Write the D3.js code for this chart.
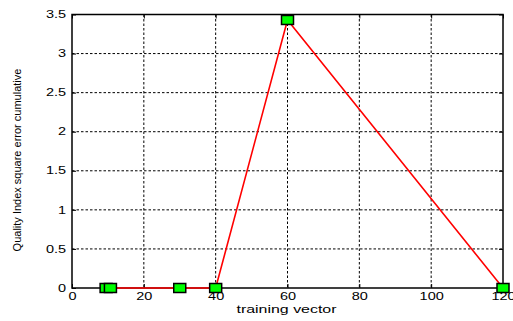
<!DOCTYPE html>
<html><head><meta charset="utf-8">
<script src="https://cdn.jsdelivr.net/npm/d3@7"></script>
<style>body{margin:0;background:#fff;}</style>
</head><body>
<script>
const xValues = [9.5, 10.7, 30, 40, 60, 120];
const yValues = [0, 0, 0, 0, 3.43, 0];
const xTicks = [0, 20, 40, 60, 80, 100, 120];
const yTicks = [0, 0.5, 1, 1.5, 2, 2.5, 3, 3.5];
const xLabel = "training vector";
const yLabel = "Quality Index square error cumulative";

const W = 513, H = 321;
const L = 72, R = 503, T = 14.5, B = 288;
const SX = 1.45; // horizontal stretch of the reference's text
const FONT = "'Liberation Sans', Arial, sans-serif";
const svg = d3.select("body").append("svg").attr("width", W).attr("height", H)
  .style("font-family", FONT);
const x = d3.scaleLinear().domain([0, 120]).range([L, R]);
const y = d3.scaleLinear().domain([0, 3.5]).range([B, T]);

// grid
const g = svg.append("g");
g.selectAll("line.vx").data(xTicks.slice(1, -1)).enter().append("line")
  .attr("x1", d => x(d)).attr("x2", d => x(d)).attr("y1", T).attr("y2", B)
  .attr("stroke", "#000").attr("stroke-width", 1).attr("stroke-dasharray", "2.5,2");
g.selectAll("line.hy").data(yTicks.slice(1, -1)).enter().append("line")
  .attr("y1", d => y(d)).attr("y2", d => y(d)).attr("x1", L).attr("x2", R)
  .attr("stroke", "#000").attr("stroke-width", 1).attr("stroke-dasharray", "2.5,2");
svg.append("rect").attr("x", L).attr("y", T).attr("width", R - L).attr("height", B - T)
  .attr("fill", "none").attr("stroke", "#000").attr("stroke-width", 1.5);

// axes (ticks inside)
const xa = svg.append("g").attr("transform", `translate(0,${B})`)
  .call(d3.axisBottom(x).tickValues(xTicks).tickSize(-4).tickPadding(4.5).tickFormat(d3.format("d")));
const xt = svg.append("g").attr("transform", `translate(0,${T})`)
  .call(d3.axisTop(x).tickValues(xTicks).tickSize(-4).tickFormat(""));
const ya = svg.append("g").attr("transform", `translate(${L},0)`)
  .call(d3.axisLeft(y).tickValues(yTicks).tickSize(-4).tickPadding(6).tickFormat(d => d3.format("")(d)));
const yr = svg.append("g").attr("transform", `translate(${R},0)`)
  .call(d3.axisRight(y).tickValues(yTicks).tickSize(-4).tickFormat(""));
[xa, xt, ya, yr].forEach(a => {
  a.select(".domain").remove();
  a.selectAll("text").attr("font-size", 10).attr("fill", "#000").attr("font-family", FONT);
  a.selectAll(".tick line").attr("stroke", "#000");
});
xa.selectAll("text").attr("transform", `scale(${SX},1)`);
ya.selectAll("text").attr("x", -6 / SX).attr("transform", `scale(${SX},1)`);

// line
const pts = xValues.map((d, i) => [d, yValues[i]]);
svg.append("path").datum(pts)
  .attr("d", d3.line().x(d => x(d[0])).y(d => y(d[1])))
  .attr("fill", "none").attr("stroke", "#ff0000").attr("stroke-width", 1.6);

// markers
svg.selectAll("rect.m").data(pts).enter().append("rect")
  .attr("x", d => x(d[0]) - 6).attr("y", d => y(d[1]) - 4.5)
  .attr("width", 12).attr("height", 9)
  .attr("fill", "#00ff00").attr("stroke", "#000").attr("stroke-width", 1.5);

// labels
svg.append("text").attr("transform", `translate(286.5,313) scale(${SX},1)`)
  .attr("text-anchor", "middle").attr("font-size", 11).text(xLabel);
svg.append("text").attr("transform", `translate(21,160) rotate(-90)`)
  .attr("text-anchor", "middle").attr("font-size", 11)
  .style("font-family", "'Liberation Sans Narrow', 'Arial Narrow', sans-serif")
  .text(yLabel);
</script>
</body></html>
